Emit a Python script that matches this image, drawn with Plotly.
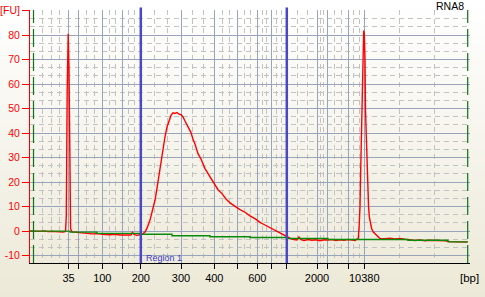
import plotly.graph_objects as go

# ---------------- data ----------------
# migration position (plot units) and fluorescence [FU] of the sample trace
sample_time = [
    30, 33, 36, 40, 44, 48, 52, 56, 60, 63, 65.5,
    66.3, 67.2, 68.2, 69.0, 69.8, 70.6, 72,
    76, 80, 84, 88, 92, 96, 100, 105, 110, 115, 120, 125, 129, 131, 132.5, 134, 137, 140,
    142, 145, 147, 150, 152, 155, 157, 159, 161, 163, 165, 167, 169, 171, 173, 175, 177, 179,
    181, 183, 185, 187, 189, 191, 193, 195,
    198, 201, 205, 209, 214, 218, 222, 226, 230, 235, 240, 245, 250, 255, 260, 265, 270, 275,
    280, 283, 285, 288, 291, 294,
    297, 299, 301, 304, 308, 312, 316, 320, 324, 328, 332, 336, 340, 344, 348, 352, 355, 357,
    358.3, 359.2, 360, 360.7, 361.3, 362.2, 363, 363.7, 364.3, 365, 365.5, 366.3, 367, 367.7,
    368.5, 369.3, 370.5, 371.7, 373.3, 375, 376.7, 378.5, 380,
    385, 390, 395, 400, 405, 410, 415, 420, 425, 430, 435, 440, 445, 450, 455, 460, 464, 467.5,
]
sample_fu = [
    0.1, 0.0, 0.1, -0.1, 0.1, -0.2, -0.1, -0.3, -0.2, -0.4, -0.1,
    6.1, 57.8, 80.5, 66.2, 10.2, 1.0, -0.3,
    -0.5, -0.7, -0.6, -0.9, -1.1, -1.0, -1.3, -1.4, -1.5, -1.3, -1.6, -1.5, -1.4, -1.6, -0.5, -1.3, -1.7, -1.6,
    -1.3, -0.4, 1.2, 4.5, 7.6, 12.6, 17.5, 22.8, 28.5, 34.2, 38.5, 42.5, 45.3, 47.2, 48.3, 48.0, 48.4, 47.7,
    47.5, 46.6, 44.9, 43.3, 41.8, 40.2, 37.5, 35.5,
    31.6, 29.4, 25.5, 22.8, 19.6, 16.9, 15.3, 13.1, 11.5, 10.0, 8.8, 7.7, 6.2, 5.1, 3.6, 2.5, 1.4, 0.5,
    -0.6, -1.2, -1.8, -2.5, -3.1, -3.4,
    -3.6, -2.4, -3.5, -3.8, -3.4, -3.7, -3.5, -3.9, -3.5, -3.6, -3.4, -3.8, -3.5, -3.7, -3.4, -3.6, -3.8, -3.3,
    -2.8, 2.5, 10.0, 25.0, 37.0, 56.1, 72.4, 81.8, 80.5, 70.0, 49.3, 37.0, 28.0, 19.4,
    10.5, 5.8, 3.2, 1.0, -0.4, -1.1, -1.8, -2.5, -3.0,
    -3.1, -2.9, -3.2, -3.0, -3.3, -3.6, -3.8, -3.6, -3.9, -3.7, -3.8, -3.6, -3.9, -4.3, -4.4, -4.3, -4.5, -4.5,
]

# stepwise baseline (green)
baseline_time = [30, 70, 97, 140, 172, 210, 250, 287, 328, 369, 408, 448, 468]
baseline_fu = [0.0, -0.4, -0.9, -1.3, -1.9, -2.3, -2.6, -3.0, -3.4, -3.4, -3.7, -4.4, -4.4]

# ladder: bp sizes and their positions on the time axis
ladder_bp = [35, 50, 100, 150, 200, 300, 400, 500, 600, 700, 1000, 2000, 3000, 7000, 10380]
ladder_time = [68.5, 78.3, 102.3, 122.3, 140.8, 181.0, 214.3, 237.3, 257.3, 271.5, 286.8,
               317.0, 327.3, 348.3, 364.3]
labeled_bp = [35, 100, 200, 300, 400, 600, 2000, 10380]

# intermediate (dashed) vertical grid positions
grid_minor_time = [42.7, 51.2, 59.8, 86.3, 94.3, 109.0, 115.6, 128.5, 134.6, 154.2, 167.6,
                   192.1, 203.2, 222.0, 229.6, 244.0, 250.6, 262.0, 266.8, 276.6, 281.7,
                   297.0, 307.0, 320.4, 323.9, 334.3, 341.3, 353.6, 359.0, 399.5, 434.8]

y_ticks = [-10, 0, 10, 20, 30, 40, 50, 60, 70, 80, 90]
y_ticktext = ["-10", "0", "10", "20", "30", "40", "50", "60", "70", "80", "[FU]"]

region_bounds_bp = [200, 1000]
marker_time = [33.5, 467.7]   # green dashed lower/upper marker lines

# ---------------- figure ----------------
W, H = 485, 297
ML, MR, MT, MB = 30, 15, 10, 34
PW, PH = W - ML - MR, H - MT - MB

fig = go.Figure()
fig.add_trace(go.Scatter(x=sample_time, y=sample_fu, mode="lines",
                         line=dict(color="#ff0000", width=1.4),
                         showlegend=False, hoverinfo="skip"))
fig.add_trace(go.Scatter(x=baseline_time, y=baseline_fu, mode="lines",
                         line=dict(color="#0a8a0a", width=1.4, shape="hv"),
                         showlegend=False, hoverinfo="skip"))

shapes = []
# background gradient (white -> beige)
top_rgb = (255, 255, 255)
bot_rgb = (236, 233, 216)
N = 40
for i in range(N):
    t = (i + 0.5) / N
    c = tuple(round(a + (b - a) * t) for a, b in zip(top_rgb, bot_rgb))
    y0_px = H * i / N
    y1_px = H * (i + 1) / N + 0.6
    shapes.append(dict(type="rect", xref="paper", yref="paper",
                       x0=-ML / PW, x1=1 + MR / PW,
                       y0=(H - MB - y1_px) / PH, y1=(H - MB - y0_px) / PH,
                       fillcolor="rgb(%d,%d,%d)" % c, line=dict(width=0), layer="below"))

# green dashed marker lines
for mt in marker_time:
    shapes.append(dict(type="line", xref="x", yref="paper", x0=mt, x1=mt, y0=0, y1=1.0,
                       line=dict(color="#11701a", width=1.2, dash="18px,6px"), layer="above"))

# region boundaries (blue)
for bp in region_bounds_bp:
    xt = ladder_time[ladder_bp.index(bp)]
    shapes.append(dict(type="line", xref="x", yref="paper", x0=xt, x1=xt, y0=0, y1=1.01,
                       line=dict(color="#4848c4", width=2.5), layer="above"))

ticktext = [str(b) if b in labeled_bp else "" for b in ladder_bp]

fig.update_layout(
    width=W, height=H,
    margin=dict(l=ML, r=MR, t=MT, b=MB, pad=0, autoexpand=False),
    paper_bgcolor="#f6f5ee",
    plot_bgcolor="rgba(0,0,0,0)",
    font=dict(family="Liberation Sans, Arial, sans-serif", size=11, color="black"),
    shapes=shapes,
    xaxis=dict(
        automargin=False,
        range=[30, 470], tickmode="array", tickvals=ladder_time, ticktext=ticktext,
        ticks="outside", ticklen=5, tickcolor="black", tickwidth=1,
        showline=True, linecolor="black", linewidth=1,
        showgrid=True, gridcolor="#98a3bc", gridwidth=1.2, zeroline=False,
        tickfont=dict(size=11, color="black"),
        minor=dict(tickmode="array", tickvals=grid_minor_time, showgrid=True,
                   gridcolor="#c2c2c2", gridwidth=1, griddash="5px,4px", ticks=""),
    ),
    yaxis=dict(
        automargin=False,
        range=[-13, 90.2], tickmode="array", tickvals=y_ticks, ticktext=y_ticktext,
        ticks="outside", ticklen=7, tickcolor="#ff0000", tickwidth=1,
        showline=True, linecolor="#ff0000", linewidth=1,
        showgrid=True, gridcolor="#98a3bc", gridwidth=1.2, zeroline=False,
        tickfont=dict(size=10.5, color="#ff0000"),
        minor=dict(tick0=0, dtick=10 / 3, showgrid=True, gridcolor="#c2c2c2",
                   gridwidth=1, griddash="5px,4px", ticks=""),
    ),
    annotations=[
        dict(text="RNA8", xref="paper", yref="paper", x=(466 - ML) / PW, y=(H - MB - 6) / PH,
             xanchor="right", yanchor="middle", showarrow=False,
             font=dict(size=10.5, color="black")),
        dict(text="[bp]", xref="paper", yref="paper", x=(469.7 - ML) / PW, y=(H - MB - 277.5) / PH,
             xanchor="center", yanchor="middle", showarrow=False,
             font=dict(size=11.5, color="black")),
        dict(text="Region 1", xref="x", yref="paper",
             x=ladder_time[ladder_bp.index(region_bounds_bp[0])] + 3.5, y=(H - MB - 257.5) / PH,
             xanchor="left", yanchor="middle", showarrow=False,
             font=dict(size=9, color="#3c3cc8")),
    ],
)

fig.write_html("out.html")
